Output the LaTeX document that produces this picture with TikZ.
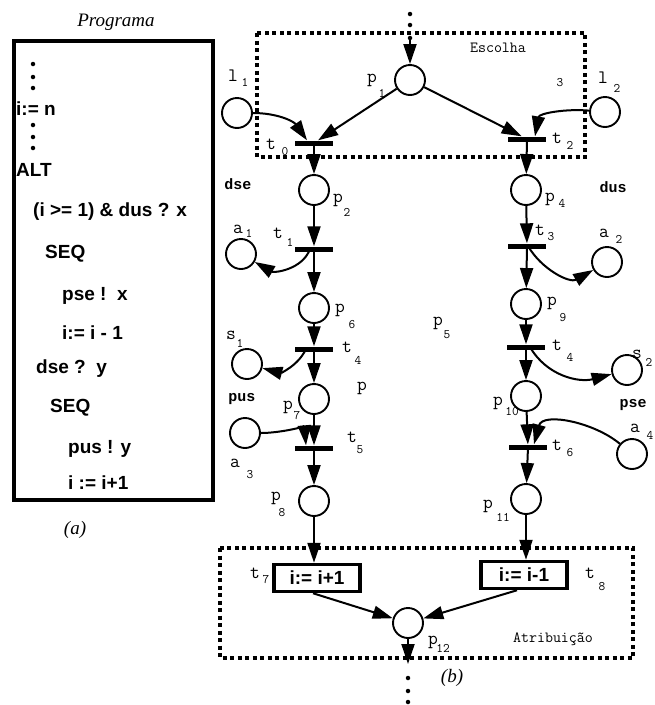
\documentclass[tikz,border=0pt]{standalone}
\usepackage{fontspec}
\setmainfont{Liberation Serif}
\setsansfont{Liberation Sans}
\setmonofont{Liberation Mono}
\newfontfamily\lmmono{Latin Modern Mono}
\usetikzlibrary{arrows.meta, calc}
\tikzset{
	placenode/.style={circle, draw=black, line width=1.9pt, minimum size=30pt, inner sep=0pt},
	transbar/.style ={rectangle, fill=black, minimum width=38pt, minimum height=5pt, inner sep=0pt},
	assignbox/.style={rectangle, draw=black, line width=3.5pt, minimum width=86pt, minimum height=27pt, inner sep=2pt, font=\sffamily\bfseries\fontsize{19}{19}\selectfont},
	flowarc/.style  ={-{Triangle[length=20pt, width=13pt]}, line width=2pt},
	groupbox/.style ={line width=4pt, dash pattern=on 4pt off 3.5pt},
	ellip/.style    ={circle, fill=black, minimum size=4.5pt, inner sep=0pt},
	% text styles
	progline/.style ={anchor=base west, inner sep=0pt, font=\sffamily\bfseries\fontsize{19}{19}\selectfont},
	captxt/.style   ={inner sep=0pt, font=\itshape\fontsize{19}{19}\selectfont},
	lbl/.style      ={inner sep=0pt, font=\lmmono\fontsize{19}{19}\selectfont},
	sublbl/.style   ={inner sep=0pt, font=\lmmono\fontsize{13}{13}\selectfont},
	regiontxt/.style={inner sep=0pt, font=\lmmono\fontsize{15.5}{15.5}\selectfont},
	chan/.style     ={inner sep=0pt, font=\ttfamily\bfseries\fontsize{15}{15}\selectfont},
}
\begin{document}
\begin{tikzpicture}[x=1pt, y=-1pt]
	\useasboundingbox (0,0) rectangle (655,705);
	% (a) program
	\node[captxt] (progtitle) at (116,22) {Programa};
	\draw[line width=4.5pt] (14,41) rectangle (213,500);
	\foreach \dy in {64,77,88,125,137,148}
		\node[ellip] (pd\dy) at (33,\dy) {};
	\node[progline] (pl1) at (16,115) {i:= n};
	\node[progline] (pl2) at (16,176) {ALT};
	\node[progline] (pl3) at (33,216) {(i >= 1) \& dus ? x};
	\node[progline] (pl4) at (45,258) {SEQ};
	\node[progline] (pl5) at (62,300) {pse !\ \ x};
	\node[progline] (pl6) at (62,339) {i:= i - 1};
	\node[progline] (pl7) at (36,373) {dse ?\ \ y};
	\node[progline] (pl8) at (50,412) {SEQ};
	\node[progline] (pl9) at (68,453) {pus ! y};
	\node[progline] (pl10) at (68,489) {i := i+1};
	\node[captxt] (capa) at (75,530) {(a)};
	% (b) net: regions
	\draw[groupbox] (257,33) rectangle (585,157);
	\draw[groupbox] (220,548) rectangle (633,658);
	\node[regiontxt] (escolha) at (498,48) {Escolha};
	\node[regiontxt] (atrib) at (553,639) {Atribuição};
	% places and transitions
	\foreach \nm/\px/\py in {l1/237/113, p1/410/80, l2/605/112, p2/314/190, p4/526/190,
		a1/241/254, p6/314/308, s1/247/364, p7/314/399, a3/245/433, p8/314/501,
		a2/607/262, p9/526/304, s2/627/370, p10/526/396, a4/632/454, p11/526/499, p12/408/623}
		\node[placenode] (\nm) at (\px,\py) {};
	\foreach \nm/\px/\py in {t0/314/143, t2/527/139, t1/314/249, t4/314/349, t5/314/448,
		t3/527/246, t4r/526/347, t6/528/447}
		\node[transbar] (\nm) at (\px,\py) {};
	\node[assignbox] (t7) at (317,578) {i:= i+1};
	\node[assignbox] (t8) at (524,575) {i:= i-1};
	% labels
	\foreach \nm/\px/\py/\ch/\dx/\dy/\ix in {ll1/233/76/l/12/6/1, lp1/372/80/p/10/13/1,
		lt0/271/144/t/14/8/0, lt2/557/138/t/13/7/2, ll2/603/78/l/14/10/2, lp2/338/200/p/9/12/2,
		lp4/550/199/p/12/4/4, lt1/278/233/t/12/9/1, la1/238/229/a/11/4/1, lp6/340/310/p/12/15/6,
		lt4/347/347/t/11/13/4, ls1/231/335/s/9/8/1, lp7/288/407/p/9/9/7, la3/235/463/a/15/12/3,
		lt5/352/437/t/8/13/5, lp8/276/498/p/6/15/8, lt7/255/573/t/11/7/7, lp12/433/642/p/10/6/12,
		lt8/590/573/t/12/14/8, lp11/488/506/p/15/11/11, lt6/557/445/t/13/8/6, la4/635/428/a/15/7/4,
		lt3/540/230/t/11/7/3, la2/604/233/a/15/6/2, lp9/552/303/p/11/15/9, ltr/557/345/t/13/12/4,
		ls2/637/354/s/12/8/2, lp10/498/403/p/14/9/10, lp5/438/323/p/9/12/5}
	{
		\node[lbl] (\nm) at (\px,\py) {\ch};
		\node[sublbl] (\nm-s) at ([shift={(\dx,\dy)}]\nm.center) {\ix};
	}
	\node[lbl] (lp) at (362,388) {p};
	\node[sublbl] (w3) at (560,83) {3};
	\node[chan] (dse) at (238,184) {dse};
	\node[chan] (dus) at (613,187) {dus};
	\node[chan] (pus) at (242,399) {pus};
	\node[chan] (pse) at (633,405) {pse};
	% entry and exit
	\foreach \dy in {14,25,38}
		\node[ellip] (top\dy) at (410,\dy) {};
	\coordinate (entry) at (410,40);
	\draw[flowarc] (entry) -- (p1);
	\coordinate (exit) at (408,664);
	\draw[flowarc] (p12) -- (exit);
	\foreach \dy in {678,691,702}
		\node[ellip] (bot\dy) at (408,\dy) {};
	% arcs of the choice
	\draw[flowarc] (p1) -- (t0);
	\draw[flowarc] (p1) -- (t2);
	\draw[flowarc] (l1) to[out=0, in=125] ([xshift=-7pt]t0.north);
	\draw[flowarc] (l2) to[out=175, in=80] ([xshift=8pt]t2.north);
	% left branch
	\draw[flowarc] (t0) -- (p2);
	\draw[flowarc] (p2) -- (t1);
	\draw[flowarc] (t1) -- (p6);
	\draw[flowarc] ([xshift=-4pt]t1.center) to[out=250, in=-30] (a1);
	\draw[flowarc] (p6) -- (t4);
	\draw[flowarc] (t4) -- (p7);
	\draw[flowarc] ([xshift=-8pt]t4.center) to[out=245, in=-15] (s1);
	\draw[flowarc] (p7) -- (t5);
	\draw[flowarc] (a3) to[out=0, in=95] ([xshift=-8pt]t5.north);
	\draw[flowarc] (t5) -- (p8);
	\draw[flowarc] (p8) -- (p8 |- t7.north);
	% right branch
	\draw[flowarc] (t2) -- (p4);
	\draw[flowarc] (p4) -- (t3);
	\draw[flowarc] (t3) -- (p9);
	\draw[flowarc] ([xshift=1pt]t3.center) to[out=-60, in=210] (a2);
	\draw[flowarc] (p9) -- (t4r);
	\draw[flowarc] (t4r) -- (p10);
	\draw[flowarc] ([xshift=4pt]t4r.center) to[out=-60, in=195] (s2);
	\draw[flowarc] (p10) -- (t6);
	\draw[flowarc] (a4) to[out=140, in=75] ([xshift=6pt]t6.north);
	\draw[flowarc] (t6) -- (p11);
	\draw[flowarc] (p11) -- (p11 |- t8.north);
	% assignment
	\draw[flowarc] ([xshift=-4pt]t7.south) -- (p12);
	\draw[flowarc] ([xshift=-7pt]t8.south) -- (p12);
	\node[captxt] (capb) at (452,678) {(b)};
\end{tikzpicture}
\end{document}
